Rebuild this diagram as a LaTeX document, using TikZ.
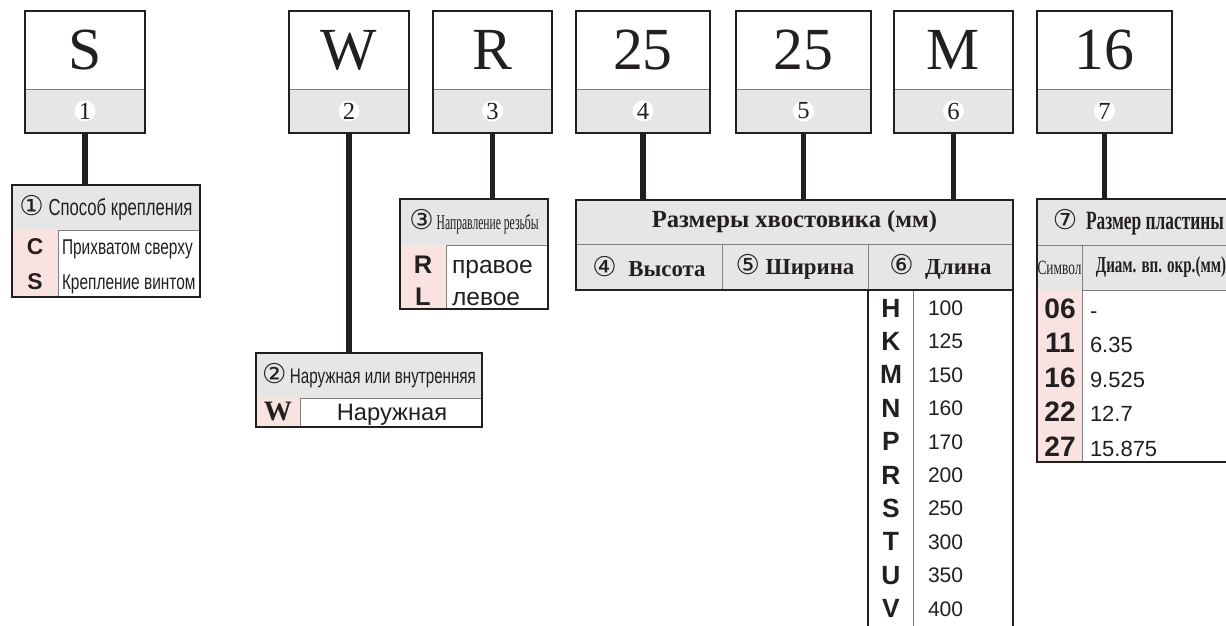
\documentclass[tikz,border=0pt]{standalone}
\usepackage{fontspec}
\setmainfont{Liberation Serif}
\setsansfont{Liberation Sans}
\newfontfamily\condsans[FakeStretch=0.72]{Liberation Sans}
\newfontfamily\condserif[FakeStretch=0.66]{Liberation Serif}
\newfontfamily\narrowserif[FakeStretch=0.55]{Liberation Serif}
\newfontfamily\circfont{DejaVu Sans}
\newcommand{\tam}[1]{\fontsize{#1}{#1}\selectfont}
\newcommand{\cn}[1]{{\circfont\mdseries\fontsize{15.5}{15.5}\selectfont #1}}
\usetikzlibrary{positioning}
\definecolor{gris}{RGB}{230,230,230}
\definecolor{rosa}{RGB}{249,227,225}
\definecolor{tinta}{RGB}{35,31,32}

\begin{document}
\begin{tikzpicture}[x=0.02cm, y=-0.02cm,
  every node/.style={inner sep=0pt, outer sep=0pt, text=tinta},
  letra/.style={anchor=north west, minimum height=1.56cm, font=\tam{34}},
  banda/.style={fill=gris, draw=gray, line width=0.5pt, minimum height=0.88cm, below=0pt of #1},
  num/.style={circle, fill=white, minimum size=0.42cm, font=\tam{14}},
  cab/.style={anchor=north west, fill=gris, draw=gray, line width=0.5pt},
  clave/.style={anchor=north west, fill=rosa},
  cuerpo/.style={anchor=north west, fill=white, draw=gray, line width=0.5pt},
  marco/.style={draw=tinta, line width=1.4pt},
  palo/.style={draw=tinta, line width=3.2pt},
  sig/.style={anchor=base, font=\sffamily\bfseries\tam{15}},
  val/.style={anchor=base west, font=\sffamily\tam{12}}]

  \useasboundingbox (0,0) rectangle (1226,625);

  % Casillas del codigo
  \node[letra, minimum width=2.4cm] (s) at (25,11) {S};
  \node[banda=s, minimum width=2.4cm] (s-b) {};
  \node[num] (n1) at (s-b) {1};

  \node[letra, minimum width=2.4cm] (w) at (289,11) {W};
  \node[banda=w, minimum width=2.4cm] (w-b) {};
  \node[num] (n2) at (w-b) {2};

  \node[letra, minimum width=2.38cm] (r) at (433,11) {R};
  \node[banda=r, minimum width=2.38cm] (r-b) {};
  \node[num] (n3) at (r-b) {3};

  \node[letra, minimum width=2.68cm] (h) at (576,11) {25};
  \node[banda=h, minimum width=2.68cm] (h-b) {};
  \node[num] (n4) at (h-b) {4};

  \node[letra, minimum width=2.7cm] (a) at (736,11) {25};
  \node[banda=a, minimum width=2.7cm] (a-b) {};
  \node[num] (n5) at (a-b) {5};

  \node[letra, minimum width=2.38cm] (l) at (894,11) {M};
  \node[banda=l, minimum width=2.38cm] (l-b) {};
  \node[num] (n6) at (l-b) {6};

  \node[letra, minimum width=2.7cm] (p) at (1037,11) {16};
  \node[banda=p, minimum width=2.7cm] (p-b) {};
  \node[num] (n7) at (p-b) {7};

  % Tabla 1
  \node[cab, minimum width=3.76cm, minimum height=0.9cm, font=\condsans\tam{13.2}] (t1) at (12,185) {\cn{①}~Способ крепления};
  \node[clave, minimum width=0.92cm, minimum height=1.34cm] (t1-k) at (t1.south west) {};
  \node[cuerpo, minimum width=2.84cm, minimum height=1.34cm] (t1-v) at (t1-k.north east) {};
  \node[sig, font=\sffamily\bfseries\tam{13}] (t1-c) at (35,254) {C};
  \node[sig, font=\sffamily\bfseries\tam{13}] (t1-s) at (35,289) {S};
  \node[val, font=\condsans\tam{12.2}] (t1-c2) at (62,254) {Прихватом сверху};
  \node[val, font=\condsans\tam{12.2}] (t1-s2) at (62,289) {Крепление винтом};

  % Tabla 2
  \node[cab, minimum width=4.52cm, minimum height=0.9cm, font=\condsans\tam{12}] (t2) at (256,353) {\cn{②}\,Наружная или внутренняя};
  \node[clave, minimum width=0.88cm, minimum height=0.58cm] (t2-k) at (t2.south west) {};
  \node[cuerpo, minimum width=3.64cm, minimum height=0.58cm] (t2-v) at (t2-k.north east) {};
  \node[anchor=base, font=\bfseries\tam{16}] (t2-w) at (278,420) {W};
  \node[anchor=base, font=\sffamily\tam{13.5}] (t2-w2) at (392,420) {Наружная};

  % Tabla 3
  \node[cab, minimum width=2.96cm, minimum height=0.92cm, font=\narrowserif\tam{12}] (t3) at (400,199) {\cn{③}~Направление резьбы};
  \node[clave, minimum width=0.92cm, minimum height=1.28cm] (t3-k) at (t3.south west) {};
  \node[cuerpo, minimum width=2.04cm, minimum height=1.28cm] (t3-v) at (t3-k.north east) {};
  \node[sig, font=\sffamily\bfseries\tam{14.5}] (t3-r) at (423,273) {R};
  \node[sig, font=\sffamily\bfseries\tam{14.5}] (t3-l) at (423,305) {L};
  \node[val, font=\sffamily\tam{14}] (t3-r2) at (452,273) {правое};
  \node[val, font=\sffamily\tam{14}] (t3-l2) at (452,305) {левое};

  % Tabla 4, 5, 6
  \node[cab, minimum width=8.74cm, minimum height=0.88cm, font=\bfseries\tam{14}] (t4) at (576,200) {Размеры хвостовика (мм)};
  \node[cab, minimum width=2.92cm, minimum height=0.92cm, font=\bfseries\tam{13}] (t4-a) at (t4.south west) {\cn{④}~~Высота};
  \node[cab, minimum width=2.92cm, minimum height=0.92cm, font=\bfseries\tam{13}] (t4-b) at (t4-a.north east) {\cn{⑤}~Ширина};
  \node[cab, minimum width=2.9cm, minimum height=0.92cm, font=\bfseries\tam{13}] (t4-c) at (t4-b.north east) {\cn{⑥}~~Длина};
  \node[cuerpo, minimum width=0.9cm, minimum height=7cm] (t6-k) at (t4-c.south west) {};
  \node[cuerpo, minimum width=2cm, minimum height=7cm] (t6-v) at (t6-k.north east) {};
  \node[sig] (t6-h) at (891,317) {H};
  \node[sig] (t6-k1) at (891,350.4) {K};
  \node[sig] (t6-m) at (891,383.8) {M};
  \node[sig] (t6-n) at (891,417.2) {N};
  \node[sig] (t6-p) at (891,450.6) {P};
  \node[sig] (t6-r) at (891,484) {R};
  \node[sig] (t6-s) at (891,517.4) {S};
  \node[sig] (t6-t) at (891,550.8) {T};
  \node[sig] (t6-u) at (891,584.2) {U};
  \node[sig] (t6-w) at (891,617.6) {V};
  \node[val] (t6-h2) at (928,315.5) {100};
  \node[val] (t6-k2) at (928,348.9) {125};
  \node[val] (t6-m2) at (928,382.3) {150};
  \node[val] (t6-n2) at (928,415.7) {160};
  \node[val] (t6-p2) at (928,449.1) {170};
  \node[val] (t6-r2) at (928,482.5) {200};
  \node[val] (t6-s2) at (928,515.9) {250};
  \node[val] (t6-t2) at (928,549.3) {300};
  \node[val] (t6-u2) at (928,582.7) {350};
  \node[val] (t6-w2) at (928,616.1) {400};

  % Tabla 7
  \node[cab, minimum width=4.06cm, minimum height=0.92cm, font=\condserif\bfseries\tam{15}] (t7) at (1037,199) {\cn{⑦}~~Размер пластины};
  \node[cab, minimum width=0.9cm, minimum height=0.9cm, font=\condserif\tam{11.5}] (t7-s) at (t7.south west) {Символ};
  \node[cab, minimum width=3.16cm, minimum height=0.9cm, font=\condserif\bfseries\tam{13}] (t7-d) at (t7-s.north east) {Диам. вп. окр.(мм)};
  \node[clave, minimum width=0.9cm, minimum height=3.44cm] (t7-k) at (t7-s.south west) {};
  \node[cuerpo, minimum width=3.16cm, minimum height=3.44cm] (t7-v) at (t7-k.north east) {};
  \node[sig, font=\sffamily\bfseries\tam{16}] (t7-a) at (1060,318) {06};
  \node[sig, font=\sffamily\bfseries\tam{16}] (t7-b) at (1060,352.6) {11};
  \node[sig, font=\sffamily\bfseries\tam{16}] (t7-c) at (1060,387) {16};
  \node[sig, font=\sffamily\bfseries\tam{16}] (t7-d1) at (1060,421.5) {22};
  \node[sig, font=\sffamily\bfseries\tam{16}] (t7-e) at (1060,456) {27};
  \node[val, font=\sffamily\tam{12.5}] (t7-a2) at (1090,318) {-};
  \node[val, font=\sffamily\tam{12.5}] (t7-b2) at (1090,352.6) {6.35};
  \node[val, font=\sffamily\tam{12.5}] (t7-c2) at (1090,387) {9.525};
  \node[val, font=\sffamily\tam{12.5}] (t7-d2) at (1090,421.5) {12.7};
  \node[val, font=\sffamily\tam{12.5}] (t7-e2) at (1090,456) {15.875};

  % Palos
  \draw[palo] (s-b.south) -- (s-b.south |- t1.north);
  \draw[palo] (w-b.south) -- (w-b.south |- t2.north);
  \draw[palo] (r-b.south) -- (r-b.south |- t3.north);
  \draw[palo] (h-b.south) -- (h-b.south |- t4.north);
  \draw[palo] (a-b.south) -- (a-b.south |- t4.north);
  \draw[palo] (l-b.south) -- (l-b.south |- t4.north);
  \draw[palo] (p-b.south) -- (p-b.south |- t7.north);

  % Marcos
  \draw[marco] (s.north west) rectangle (s-b.south east);
  \draw[marco] (w.north west) rectangle (w-b.south east);
  \draw[marco] (r.north west) rectangle (r-b.south east);
  \draw[marco] (h.north west) rectangle (h-b.south east);
  \draw[marco] (a.north west) rectangle (a-b.south east);
  \draw[marco] (l.north west) rectangle (l-b.south east);
  \draw[marco] (p.north west) rectangle (p-b.south east);
  \draw[marco] (t1.north west) rectangle (t1-v.south east);
  \draw[marco] (t2.north west) rectangle (t2-v.south east);
  \draw[marco] (t3.north west) rectangle (t3-v.south east);
  \draw[marco] (t4.north west) rectangle (t4-c.south east);
  \draw[marco] (t6-k.north west) rectangle (t6-v.south east);
  \draw[marco] (t7.north west) rectangle (t7-v.south east);
\end{tikzpicture}
\end{document}
